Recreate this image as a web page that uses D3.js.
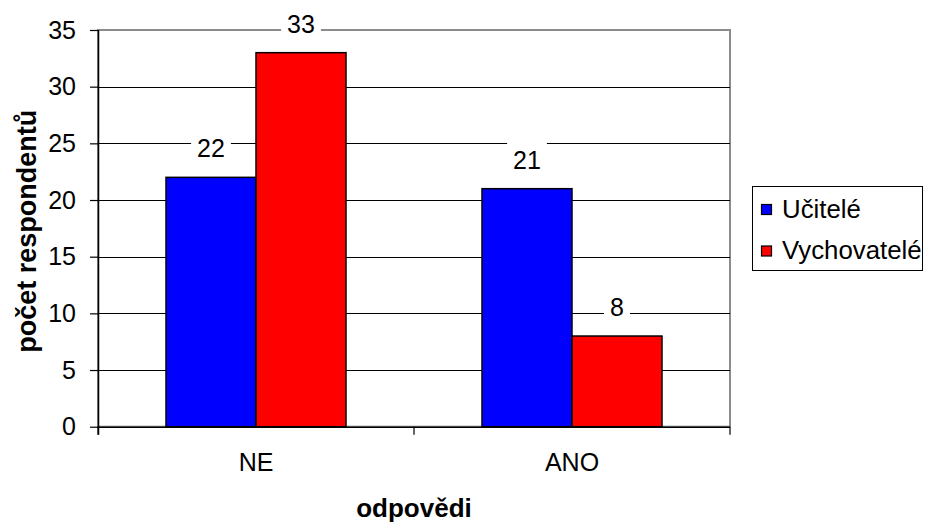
<!DOCTYPE html>
<html>
<head>
<meta charset="utf-8">
<script src="https://cdn.jsdelivr.net/npm/d3@7"></script>
<style>
  html, body { margin: 0; padding: 0; background: #fff; }
  svg { display: block; font-family: "Liberation Sans", Arial, sans-serif; }
</style>
</head>
<body>
<svg id="chart" width="926" height="522"></svg>
<script>
// Survey answers: number of respondents per answer, split by group
const categories = ["NE", "ANO"];
const seriesNames = ["Učitelé", "Vychovatelé"];
const ucitele = [22, 21];
const vychovatele = [33, 8];
const yTicks = [0, 5, 10, 15, 20, 25, 30, 35];
const seriesColors = ["#0000ff", "#ff0000"];

const svg = d3.select("#chart");
const plot = { left: 98, right: 730, top: 30, bottom: 426.7 };

const y = d3.scaleLinear().domain([0, 35]).range([plot.bottom, plot.top]);
const x0 = d3.scaleBand().domain(categories).range([plot.left, plot.right]).padding(0);
const x1 = d3.scaleBand().domain(seriesNames).range([0, x0.bandwidth()])
  .paddingInner(0).paddingOuter(0.7556);

const rows = categories.map((c, i) => ({
  category: c,
  values: [
    { series: seriesNames[0], value: ucitele[i], color: seriesColors[0] },
    { series: seriesNames[1], value: vychovatele[i], color: seriesColors[1] }
  ]
}));

// Plot area frame (grey)
svg.append("rect")
  .attr("x", plot.left).attr("y", plot.top)
  .attr("width", plot.right - plot.left).attr("height", plot.bottom - plot.top)
  .attr("fill", "none").attr("stroke", "#8c8c8c").attr("stroke-width", 2);

// Horizontal gridlines
svg.append("g").attr("class", "grid")
  .selectAll("line")
  .data(yTicks.filter(t => t > 0 && t < 35))
  .join("line")
  .attr("x1", plot.left).attr("x2", plot.right)
  .attr("y1", d => Math.round(y(d)) + 0.5).attr("y2", d => Math.round(y(d)) + 0.5)
  .attr("stroke", "#000").attr("stroke-width", 1);

// Bars
const groups = svg.append("g").selectAll("g")
  .data(rows)
  .join("g")
  .attr("transform", d => `translate(${x0(d.category)},0)`);

groups.selectAll("rect")
  .data(d => d.values)
  .join("rect")
  .attr("x", d => x1(d.series))
  .attr("y", d => y(d.value))
  .attr("width", x1.bandwidth())
  .attr("height", d => y(0) - y(d.value))
  .attr("fill", d => d.color)
  .attr("stroke", "#000")
  .attr("stroke-width", 1.5);

// Value labels with white backing
const labels = groups.selectAll("g.lbl")
  .data(d => d.values)
  .join("g").attr("class", "lbl");

labels.each(function(d) {
  const g = d3.select(this);
  const cx = x1(d.series) + x1.bandwidth() / 2;
  const base = y(d.value) - 20;
  const t = g.append("text")
    .attr("x", cx).attr("y", base)
    .attr("text-anchor", "middle")
    .attr("font-size", 25)
    .attr("fill", "#000")
    .text(d.value);
  const bb = t.node().getBBox();
  g.insert("rect", "text")
    .attr("x", bb.x - 6).attr("y", bb.y - 3)
    .attr("width", bb.width + 12).attr("height", bb.height + 2)
    .attr("fill", "#fff");
});

// Y axis
const yAxis = svg.append("g")
  .attr("transform", `translate(${plot.left},0)`)
  .call(d3.axisLeft(y).tickValues(yTicks).tickSize(8).tickPadding(14).tickSizeOuter(0));
yAxis.select(".domain").attr("stroke", "#000").attr("stroke-width", 1.5)
  .attr("d", `M0.5,${plot.top}V${plot.bottom + 8}`);
yAxis.selectAll(".tick line").attr("stroke", "#000").attr("stroke-width", 1.2);
yAxis.selectAll(".tick text")
  .attr("font-size", 25).attr("font-family", "Liberation Sans, Arial, sans-serif")
  .attr("fill", "#000");

// X axis
const xAxis = svg.append("g")
  .attr("transform", `translate(0,${plot.bottom})`)
  .call(d3.axisBottom(x0).tickSize(0).tickPadding(27));
xAxis.select(".domain").attr("stroke", "#000").attr("stroke-width", 1.5)
  .attr("d", `M${plot.left},0.5H${plot.right}`);
xAxis.selectAll(".tick text")
  .attr("font-size", 25).attr("font-family", "Liberation Sans, Arial, sans-serif")
  .attr("fill", "#000");

// Category boundary tick marks
const boundaries = categories.map(c => x0(c)).concat([x0.range()[1]]);
svg.append("g").selectAll("line")
  .data(boundaries)
  .join("line")
  .attr("x1", d => d).attr("x2", d => d)
  .attr("y1", plot.bottom).attr("y2", plot.bottom + 8)
  .attr("stroke", "#000").attr("stroke-width", 1.2);

// Axis titles
svg.append("text")
  .attr("x", (plot.left + plot.right) / 2).attr("y", 517)
  .attr("text-anchor", "middle")
  .attr("font-size", 26).attr("font-weight", "bold")
  .text("odpovědi");

svg.append("text")
  .attr("transform", `translate(36,${(plot.top + plot.bottom) / 2 + 3}) rotate(-90)`)
  .attr("text-anchor", "middle")
  .attr("font-size", 27).attr("font-weight", "bold")
  .text("počet respondentů");

// Legend
const legend = svg.append("g");
legend.append("rect")
  .attr("x", 752.5).attr("y", 186.5).attr("width", 170).attr("height", 84)
  .attr("fill", "#fff").attr("stroke", "#000").attr("stroke-width", 1);

const items = legend.selectAll("g.item")
  .data(seriesNames.map((s, i) => ({ name: s, color: seriesColors[i] })))
  .join("g").attr("class", "item")
  .attr("transform", (d, i) => `translate(0,${i * 41.5})`);

items.append("rect")
  .attr("x", 761.5).attr("y", 204.5).attr("width", 10).attr("height", 10)
  .attr("fill", d => d.color).attr("stroke", "#000").attr("stroke-width", 1.2);

items.append("text")
  .attr("x", 782).attr("y", 217.5)
  .attr("font-size", 25.8)
  .text(d => d.name);
</script>
</body>
</html>
